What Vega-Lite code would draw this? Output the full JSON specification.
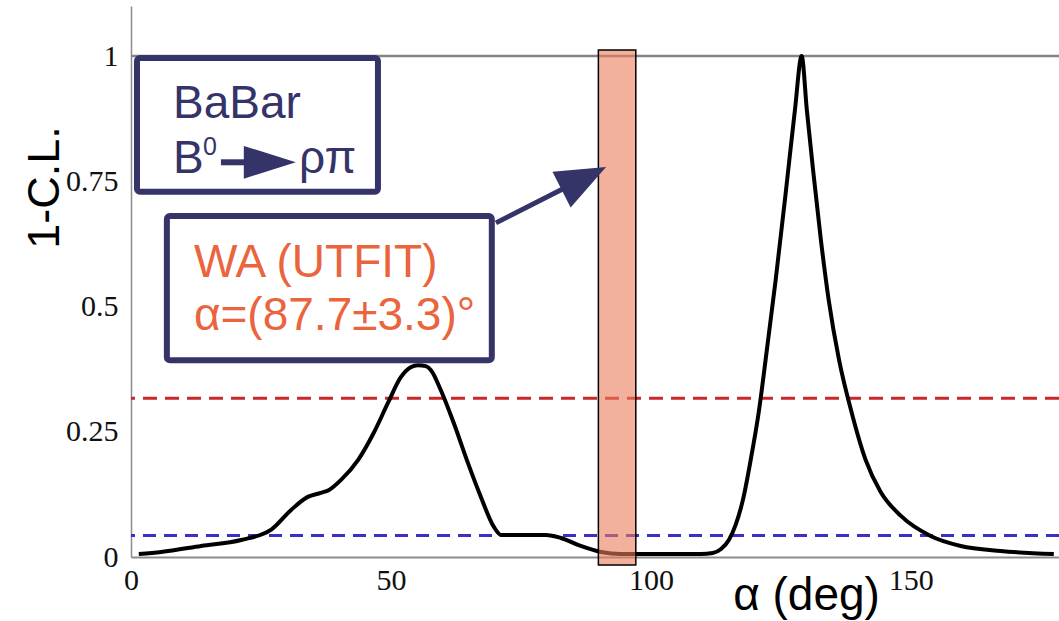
{
  "$schema": "https://vega.github.io/schema/vega-lite/v6.json",
  "width": 928,
  "height": 551,
  "autosize": {"type": "none"},
  "padding": {"left": 131, "top": 6, "right": 0, "bottom": 64},
  "background": "white",
  "config": {"view": {"stroke": null}},
  "datasets": {
    "curve": [
      {"x": 1.5, "y": 0.006}, {"x": 5.8, "y": 0.010}, {"x": 13.5, "y": 0.022}, {"x": 21.2, "y": 0.034},
      {"x": 26.9, "y": 0.054}, {"x": 30.8, "y": 0.094}, {"x": 34.0, "y": 0.120}, {"x": 36.5, "y": 0.128},
      {"x": 38.1, "y": 0.134}, {"x": 40.4, "y": 0.154}, {"x": 43.7, "y": 0.194}, {"x": 46.7, "y": 0.248},
      {"x": 49.4, "y": 0.307}, {"x": 51.9, "y": 0.359}, {"x": 53.8, "y": 0.379}, {"x": 55.2, "y": 0.383},
      {"x": 56.7, "y": 0.381}, {"x": 57.7, "y": 0.373}, {"x": 59.6, "y": 0.333}, {"x": 62.1, "y": 0.267},
      {"x": 64.8, "y": 0.188}, {"x": 67.3, "y": 0.120}, {"x": 69.8, "y": 0.060}, {"x": 71.2, "y": 0.044},
      {"x": 75.0, "y": 0.044}, {"x": 79.8, "y": 0.044}, {"x": 82.7, "y": 0.038}, {"x": 86.5, "y": 0.022},
      {"x": 90.4, "y": 0.010}, {"x": 94.2, "y": 0.006}, {"x": 109.6, "y": 0.006}, {"x": 111.9, "y": 0.008},
      {"x": 113.5, "y": 0.016}, {"x": 115.0, "y": 0.034}, {"x": 116.3, "y": 0.064}, {"x": 117.7, "y": 0.114},
      {"x": 119.2, "y": 0.194}, {"x": 120.8, "y": 0.293}, {"x": 122.3, "y": 0.413}, {"x": 124.0, "y": 0.553},
      {"x": 126.0, "y": 0.733}, {"x": 127.7, "y": 0.892},
      {"x": 129.0, "y": 1.0}, {"x": 130.0, "y": 0.892}, {"x": 131.2, "y": 0.772}, {"x": 132.7, "y": 0.633},
      {"x": 134.2, "y": 0.513}, {"x": 136.2, "y": 0.393}, {"x": 138.5, "y": 0.293}, {"x": 141.3, "y": 0.194},
      {"x": 144.2, "y": 0.130}, {"x": 148.1, "y": 0.082}, {"x": 153.8, "y": 0.042}, {"x": 159.6, "y": 0.022},
      {"x": 167.3, "y": 0.012}, {"x": 177.5, "y": 0.006}
    ],
    "band": [{"x": 89.9, "x2": 97.1, "y": -0.016, "y2": 1.012}],
    "boxes": [
      {"x": 1.15, "x2": 47.5, "y": 0.996, "y2": 0.729},
      {"x": 6.9, "x2": 69.4, "y": 0.681, "y2": 0.393}
    ],
    "navyText": [
      {"x": 8.08, "y": 0.876, "text": "BaBar"},
      {"x": 8.08, "y": 0.766, "text": "B"},
      {"x": 32.3, "y": 0.766, "text": "ρπ"}
    ],
    "supText": [{"x": 13.85, "y": 0.802, "text": "0"}],
    "orangeText": [
      {"x": 12.1, "y": 0.559, "text": "WA (UTFIT)"},
      {"x": 12.1, "y": 0.453, "text": "α=(87.7±3.3)°"}
    ],
    "smallShaft": [{"x": 17.3, "x2": 22.5, "y": 0.788, "y2": 0.788}],
    "smallHead": [{"x": 26.7, "y": 0.788}],
    "bigShaft": [{"x": 70.2, "x2": 87.1, "y": 0.667, "y2": 0.756}],
    "bigHead": [{"x": 87.1, "y": 0.756}]
  },
  "layer": [
    {
      "data": {"values": [{"y": 1}]},
      "mark": {"type": "rule", "color": "#858585", "strokeWidth": 2.5},
      "encoding": {"y": {"field": "y", "type": "quantitative"}}
    },
    {
      "data": {"values": [{"y": 0.317}]},
      "mark": {"type": "rule", "color": "#c8282a", "strokeWidth": 3, "strokeDash": [14, 8]},
      "encoding": {"y": {"field": "y", "type": "quantitative"}}
    },
    {
      "data": {"values": [{"y": 0.043}]},
      "mark": {"type": "rule", "color": "#3a30c8", "strokeWidth": 3, "strokeDash": [13, 8]},
      "encoding": {"y": {"field": "y", "type": "quantitative"}}
    },
    {
      "data": {"name": "curve"},
      "mark": {"type": "line", "color": "black", "strokeWidth": 4, "interpolate": "monotone"},
      "encoding": {
        "x": {
          "field": "x", "type": "quantitative",
          "scale": {"domain": [0, 178.5], "nice": false, "zero": false},
          "axis": {
            "title": "α (deg)", "values": [0, 50, 100, 150], "format": "d",
            "ticks": false, "grid": false, "domainColor": "#8c8c8c", "domainWidth": 2,
            "labelFont": "Liberation Serif", "labelFontSize": 30, "labelColor": "#111111",
            "labelPadding": 8, "labelFlush": false, "labelOverlap": false,
            "titleFont": "Liberation Sans", "titleFontSize": 46, "titleFontWeight": "normal",
            "titleColor": "black", "titleX": 675, "titleY": 52, "titleBaseline": "alphabetic",
            "titleAlign": "center", "titleAnchor": null
          }
        },
        "y": {
          "field": "y", "type": "quantitative",
          "scale": {"domain": [0, 1.1], "nice": false, "zero": false},
          "axis": {
            "title": "1-C.L.", "values": [0, 0.25, 0.5, 0.75, 1], "format": "~g",
            "ticks": false, "grid": false, "domainColor": "#8c8c8c", "domainWidth": 1.5,
            "labelFont": "Liberation Serif", "labelFontSize": 30, "labelColor": "#111111",
            "labelPadding": 13, "labelFlush": false, "labelOverlap": false,
            "titleFont": "Liberation Sans", "titleFontSize": 45, "titleFontWeight": "normal",
            "titleColor": "black", "titleAngle": -90, "titleX": -73, "titleY": 181,
            "titleBaseline": "alphabetic", "titleAlign": "center", "titleAnchor": null
          }
        }
      }
    },
    {
      "data": {"name": "band"},
      "mark": {"type": "rect", "fill": "#eb7b5a", "fillOpacity": 0.6, "stroke": "black", "strokeWidth": 1.5},
      "encoding": {
        "x": {"field": "x", "type": "quantitative"}, "x2": {"field": "x2"},
        "y": {"field": "y", "type": "quantitative"}, "y2": {"field": "y2"}
      }
    },
    {
      "data": {"name": "boxes"},
      "mark": {"type": "rect", "fill": "white", "stroke": "#343468", "strokeWidth": 6, "cornerRadius": 3},
      "encoding": {
        "x": {"field": "x", "type": "quantitative"}, "x2": {"field": "x2"},
        "y": {"field": "y", "type": "quantitative"}, "y2": {"field": "y2"}
      }
    },
    {
      "data": {"name": "navyText"},
      "mark": {"type": "text", "font": "Liberation Sans", "fontSize": 46, "color": "#343468", "align": "left", "baseline": "alphabetic"},
      "encoding": {
        "x": {"field": "x", "type": "quantitative"}, "y": {"field": "y", "type": "quantitative"},
        "text": {"field": "text"}
      }
    },
    {
      "data": {"name": "supText"},
      "mark": {"type": "text", "font": "Liberation Sans", "fontSize": 25, "color": "#343468", "align": "left", "baseline": "alphabetic"},
      "encoding": {
        "x": {"field": "x", "type": "quantitative"}, "y": {"field": "y", "type": "quantitative"},
        "text": {"field": "text"}
      }
    },
    {
      "data": {"name": "orangeText"},
      "mark": {"type": "text", "font": "Liberation Sans", "fontSize": 46, "color": "#ea643e", "align": "left", "baseline": "alphabetic"},
      "encoding": {
        "x": {"field": "x", "type": "quantitative"}, "y": {"field": "y", "type": "quantitative"},
        "text": {"field": "text"}
      }
    },
    {
      "data": {"name": "smallShaft"},
      "mark": {"type": "rule", "color": "#343468", "strokeWidth": 6},
      "encoding": {
        "x": {"field": "x", "type": "quantitative"}, "x2": {"field": "x2"},
        "y": {"field": "y", "type": "quantitative"}, "y2": {"field": "y2"}
      }
    },
    {
      "data": {"name": "smallHead"},
      "mark": {"type": "point", "shape": "M-1,-0.63L1,0L-1,0.63Z", "size": 2704, "filled": true, "color": "#343468", "opacity": 1, "strokeWidth": 0},
      "encoding": {
        "x": {"field": "x", "type": "quantitative"}, "y": {"field": "y", "type": "quantitative"}
      }
    },
    {
      "data": {"name": "bigShaft"},
      "mark": {"type": "rule", "color": "#343468", "strokeWidth": 5},
      "encoding": {
        "x": {"field": "x", "type": "quantitative"}, "x2": {"field": "x2"},
        "y": {"field": "y", "type": "quantitative"}, "y2": {"field": "y2"}
      }
    },
    {
      "data": {"name": "bigHead"},
      "mark": {"type": "point", "shape": "M-1,-0.8L1,0L-1,0.8Z", "size": 2500, "angle": -27, "filled": true, "color": "#343468", "opacity": 1, "strokeWidth": 0},
      "encoding": {
        "x": {"field": "x", "type": "quantitative"}, "y": {"field": "y", "type": "quantitative"}
      }
    }
  ]
}
